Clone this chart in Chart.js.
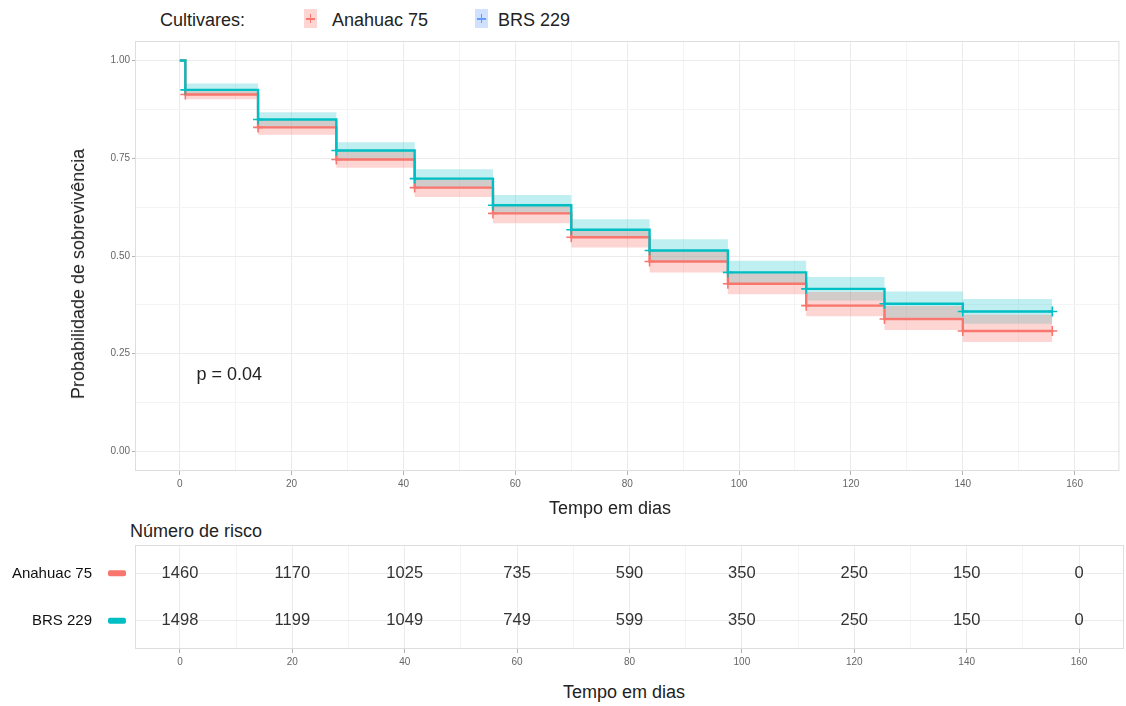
<!DOCTYPE html>
<html lang="pt">
<head>
<meta charset="utf-8">
<title>Curvas de sobrevivência por cultivar</title>
<script src="https://cdn.jsdelivr.net/npm/chart.js@4.4.1/dist/chart.umd.min.js"></script>
<style>
  body { margin: 0; background: #fff; font-family: "Liberation Sans", Arial, sans-serif; color: #222; }
  #page { position: relative; width: 1126px; height: 706px; overflow: hidden; }
  .box { position: absolute; left: 0; width: 1126px; }
  .txt { position: absolute; white-space: nowrap; font-size: 18px; line-height: 18px; }
  .key { position: absolute; top: 9px; width: 13px; height: 19px; }
  .key::before, .key::after { content: ""; position: absolute; }
  .key::before { left: 2px; top: 9px; width: 9px; height: 1.5px; }
  .key::after { left: 5.8px; top: 5px; width: 1.5px; height: 9px; }
  .k1 { left: 304px; background: rgba(248, 118, 109, 0.3); }
  .k1::before, .k1::after { background: #f8766d; }
  .k2 { left: 475px; background: rgba(97, 156, 255, 0.3); }
  .k2::before, .k2::after { background: #619cff; }
</style>
</head>
<body>
<div id="page">
  <div class="txt" style="left:160px; top:11px;">Cultivares:</div>
  <div class="key k1"></div>
  <div class="txt" style="left:332px; top:11px;">Anahuac 75</div>
  <div class="key k2"></div>
  <div class="txt" style="left:498px; top:11px;">BRS 229</div>

  <div class="box" style="top:0; height:500px;"><canvas id="survChart"></canvas></div>
  <div class="txt" style="left:78px; top:274px; transform: translate(-50%, -50%) rotate(-90deg);">Probabilidade de sobrevivência</div>
  <div class="txt" style="left:610px; top:508px; transform: translate(-50%, -50%);">Tempo em dias</div>

  <div class="txt" style="left:130px; top:522px;">Número de risco</div>
  <div class="box" style="top:520px; height:160px;"><canvas id="riskChart"></canvas></div>
  <div class="txt" style="left:624px; top:692px; transform: translate(-50%, -50%);">Tempo em dias</div>
</div>

<script>
// Kaplan-Meier estimates (step starts) and 95% bands
const tempos = [0, 1, 14, 28, 42, 56, 70, 84, 98, 112, 126, 140, 156];
const survAnahuac = [1, 0.913, 0.829, 0.747, 0.675, 0.609, 0.548, 0.486, 0.429, 0.373, 0.339, 0.308, 0.308];
const survBRS = [1, 0.925, 0.849, 0.770, 0.698, 0.630, 0.567, 0.514, 0.458, 0.416, 0.378, 0.358, 0.358];
const supAnahuac = [1, 0.926, 0.848, 0.769, 0.699, 0.631, 0.568, 0.514, 0.457, 0.408, 0.372, 0.350, 0.350];
const infAnahuac = [1, 0.901, 0.810, 0.726, 0.651, 0.584, 0.522, 0.458, 0.402, 0.346, 0.311, 0.280, 0.280];
const supBRS = [1, 0.941, 0.868, 0.791, 0.722, 0.656, 0.594, 0.543, 0.488, 0.446, 0.409, 0.390, 0.390];
const infBRS = [1, 0.912, 0.829, 0.746, 0.674, 0.608, 0.547, 0.486, 0.429, 0.386, 0.342, 0.327, 0.327];

// number at risk table
const temposRisco = [0, 20, 40, 60, 80, 100, 120, 140, 160];
const riscoAnahuac = [1460, 1170, 1025, 735, 590, 350, 250, 150, 0];
const riscoBRS = [1498, 1199, 1049, 749, 599, 350, 250, 150, 0];
const grupos = ['Anahuac 75', 'BRS 229'];

// axis breaks
const xMajor = [0, 20, 40, 60, 80, 100, 120, 140, 160];
const xMinor = [10, 30, 50, 70, 90, 110, 130, 150];
const yMajor = [0, 0.25, 0.5, 0.75, 1];
const yMinor = [0.125, 0.375, 0.625, 0.875];
const yLabels = ['0.00', '0.25', '0.50', '0.75', '1.00'];
const pValor = 'p = 0.04';

const RED = '#f8766d';
const TEAL = '#00bfc4';
const FONT = '"Liberation Sans", Arial, sans-serif';
const GRID = '#ebebeb';
const GRID_MINOR = '#f4f4f4';

const pts = (ys) => tempos.map((t, i) => ({ x: t, y: ys[i] }));

const xScale = (height) => ({
  type: 'linear',
  min: -8,
  max: 168,
  afterBuildTicks: s => { s.ticks = xMajor.concat(xMinor).sort((a, b) => a - b).map(v => ({ value: v })); },
  afterFit: s => { s.height = height; },
  border: { display: false },
  grid: {
    color: c => (c.tick && xMajor.includes(c.tick.value)) ? GRID : GRID_MINOR,
    tickColor: c => (c.tick && xMajor.includes(c.tick.value)) ? '#b3b3b3' : 'rgba(0,0,0,0)',
    tickLength: 4,
    drawTicks: true
  },
  ticks: {
    autoSkip: false,
    maxRotation: 0,
    padding: 3,
    color: '#666',
    font: { family: FONT, size: 10 },
    callback: v => xMajor.includes(v) ? String(v) : ''
  }
});

// left axis keeps a fixed width and adds no extra room above/below the panel
const fixLeftAxis = s => {
  s.width = 135;
  s.paddingTop = 0;
  s.paddingBottom = 0;
};

// light border around the plotting panel
const panelBorder = {
  id: 'panelBorder',
  afterDraw(chart) {
    const { ctx, chartArea: a } = chart;
    ctx.save();
    ctx.strokeStyle = '#dedede';
    ctx.lineWidth = 1;
    ctx.strokeRect(a.left + 0.5, a.top + 0.5, a.right - a.left - 1, a.bottom - a.top - 1);
    ctx.restore();
  }
};

const pValueLabel = {
  id: 'pValueLabel',
  afterDatasetsDraw(chart) {
    const { ctx, scales } = chart;
    ctx.save();
    ctx.font = '18px ' + FONT;
    ctx.fillStyle = '#222';
    ctx.textBaseline = 'middle';
    ctx.fillText(pValor, scales.x.getPixelForValue(3), scales.y.getPixelForValue(0.196));
    ctx.restore();
  }
};

const ribbon = (data, color, fillTo, order) => ({
  data, stepped: 'before', borderWidth: 0, pointRadius: 0,
  backgroundColor: color, fill: fillTo, order
});

const curve = (data, color, order) => ({
  data, stepped: 'before', borderColor: color, borderWidth: 2.4, fill: false, order,
  pointStyle: 'cross',
  pointRadius: c => c.dataIndex === 0 ? 0 : 5,
  pointBorderColor: color,
  pointBorderWidth: 1.6,
  pointHoverRadius: 0
});

new Chart(document.getElementById('survChart'), {
  type: 'line',
  data: {
    datasets: [
      ribbon(pts(supBRS), 'rgba(0, 191, 196, 0.25)', 1, 5),
      ribbon(pts(infBRS), 'rgba(0,0,0,0)', false, 4),
      ribbon(pts(supAnahuac), 'rgba(248, 118, 109, 0.3)', 3, 3),
      ribbon(pts(infAnahuac), 'rgba(0,0,0,0)', false, 2),
      curve(pts(survAnahuac), RED, 1),
      curve(pts(survBRS), TEAL, 0)
    ]
  },
  options: {
    responsive: true,
    maintainAspectRatio: false,
    animation: false,
    events: [],
    layout: { padding: { left: 0, top: 41, right: 2, bottom: 0 } },
    plugins: { legend: { display: false }, tooltip: { enabled: false }, filler: { drawTime: 'beforeDatasetsDraw' } },
    scales: {
      x: xScale(29),
      y: {
        type: 'linear',
        min: -0.05,
        max: 1.05,
        afterBuildTicks: s => { s.ticks = yMajor.concat(yMinor).sort((a, b) => a - b).map(v => ({ value: v })); },
        afterFit: fixLeftAxis,
        border: { display: false },
        grid: {
          color: c => (c.tick && yMajor.includes(c.tick.value)) ? GRID : GRID_MINOR,
          tickColor: c => (c.tick && yMajor.includes(c.tick.value)) ? '#b3b3b3' : 'rgba(0,0,0,0)',
          tickLength: 3
        },
        ticks: {
          padding: 2,
          color: '#666',
          font: { family: FONT, size: 10 },
          callback: v => { const k = yMajor.indexOf(v); return k >= 0 ? yLabels[k] : ''; }
        }
      }
    }
  },
  plugins: [panelBorder, pValueLabel]
});

// risk table: counts printed at each break, one row per cultivar
const linhaRisco = (counts, row) => ({
  data: temposRisco.map((t, i) => ({ x: t, y: row, n: counts[i] })),
  showLine: false, pointRadius: 0
});

const riskNumbers = {
  id: 'riskNumbers',
  afterDatasetsDraw(chart) {
    const { ctx } = chart;
    ctx.save();
    ctx.font = '16.5px ' + FONT;
    ctx.fillStyle = '#333';
    ctx.textAlign = 'center';
    ctx.textBaseline = 'middle';
    chart.data.datasets.forEach((ds, i) => {
      chart.getDatasetMeta(i).data.forEach((el, j) => {
        ctx.fillText(String(ds.data[j].n), el.x, el.y);
      });
    });
    ctx.restore();
  }
};

// coloured strokes next to the row names
const rowKeys = {
  id: 'rowKeys',
  afterDraw(chart) {
    const { ctx, scales } = chart;
    ctx.save();
    [[2, RED], [1, TEAL]].forEach(([row, color]) => {
      const py = scales.y.getPixelForValue(row);
      ctx.fillStyle = color;
      ctx.beginPath();
      ctx.roundRect(108, py - 3, 18, 6, 2);
      ctx.fill();
    });
    ctx.restore();
  }
};

new Chart(document.getElementById('riskChart'), {
  type: 'scatter',
  data: { datasets: [linhaRisco(riscoAnahuac, 2), linhaRisco(riscoBRS, 1)] },
  options: {
    responsive: true,
    maintainAspectRatio: false,
    animation: false,
    events: [],
    layout: { padding: { left: 0, top: 25, right: 2, bottom: 0 } },
    plugins: { legend: { display: false }, tooltip: { enabled: false } },
    scales: {
      x: xScale(31),
      y: {
        type: 'linear',
        min: 0.4,
        max: 2.6,
        afterBuildTicks: s => { s.ticks = [{ value: 1 }, { value: 2 }]; },
        afterFit: fixLeftAxis,
        border: { display: false },
        grid: { color: GRID, drawTicks: false },
        ticks: {
          padding: 43,
          color: '#111',
          font: { family: FONT, size: 15 },
          callback: v => v === 2 ? grupos[0] : grupos[1]
        }
      }
    }
  },
  plugins: [panelBorder, riskNumbers, rowKeys]
});
</script>
</body>
</html>
